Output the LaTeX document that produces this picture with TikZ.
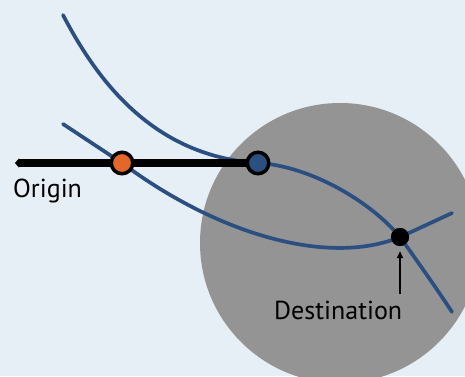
\documentclass[tikz,border=0pt]{standalone}
\usepackage{fontspec}
\setmainfont{PT Sans}
\usetikzlibrary{arrows.meta,calc}
\definecolor{bgblue}{HTML}{E6EFF5}
\definecolor{routeblue}{HTML}{2A4F80}
\definecolor{originorange}{HTML}{E3672A}
\definecolor{zonegray}{HTML}{949494}
\begin{document}
\begin{tikzpicture}[scale=1.000000,x=1pt,y=1pt,
  route/.style={draw=routeblue,line width=3.7pt,line cap=round},
  stopdot/.style={circle,draw=black,line width=3.5pt,minimum size=21.5pt,inner sep=0pt},
  lbltext/.style={inner sep=0pt,font=\fontsize{26}{30}\selectfont}]
\fill[color=bgblue] (0.000000,0.000000) rectangle (465.000000,376.000000);
\clip (0.000000,0.000000) rectangle (465.000000,376.000000);
% Drawing zone
\fill[color=zonegray] (340.000000,133.000000) circle (140.000000);
% Drawing stops
\coordinate (tipend) at (15.000000,213.000000);
\coordinate (upperstart) at (63.000000,361.000000);
\coordinate (upperend) at (452.000000,64.000000);
\coordinate (lowerstart) at (63.000000,252.000000);
\coordinate (lowerend) at (452.000000,163.000000);
\node[circle,fill=black,minimum size=18pt,inner sep=0pt] (dest) at (400.000000,139.000000) {};
% Drawing routes
\draw[route] (upperstart) .. controls (95,300) and (150,220) .. (258,213)
  .. controls (310,210) and (370,175) .. (dest.center)
  .. controls (415,118) and (435,90) .. (upperend);
\draw[route] (lowerstart) -- (122,213)
  .. controls (220,140) and (330,110) .. (dest.center)
  .. controls (420,148) and (437,156) .. (lowerend);
\node[circle,fill=black,minimum size=18pt,inner sep=0pt] at (dest) {};
% Drawing origin line and stops
\draw[line width=8pt,-{Triangle[length=4pt,width=9pt]}] (258,213) -- (tipend);
\node[stopdot,fill=originorange] (orange) at (122.000000,213.000000) {};
\node[stopdot,fill=routeblue] (blue) at (258.000000,213.000000) {};
% Drawing labels
\node[lbltext,anchor=base west] (originlabel) at (13.000000,179.000000) {Origin};
\node[lbltext,anchor=base west] (destlabel) at (274.000000,57.000000) {Destination};
\draw[line width=1.5pt,-{Triangle[length=7pt,width=6pt]}] ($(destlabel.north -| dest)+(0,6)$) -- ($(dest.south)+(0,-5)$);
\end{tikzpicture}
\end{document}
